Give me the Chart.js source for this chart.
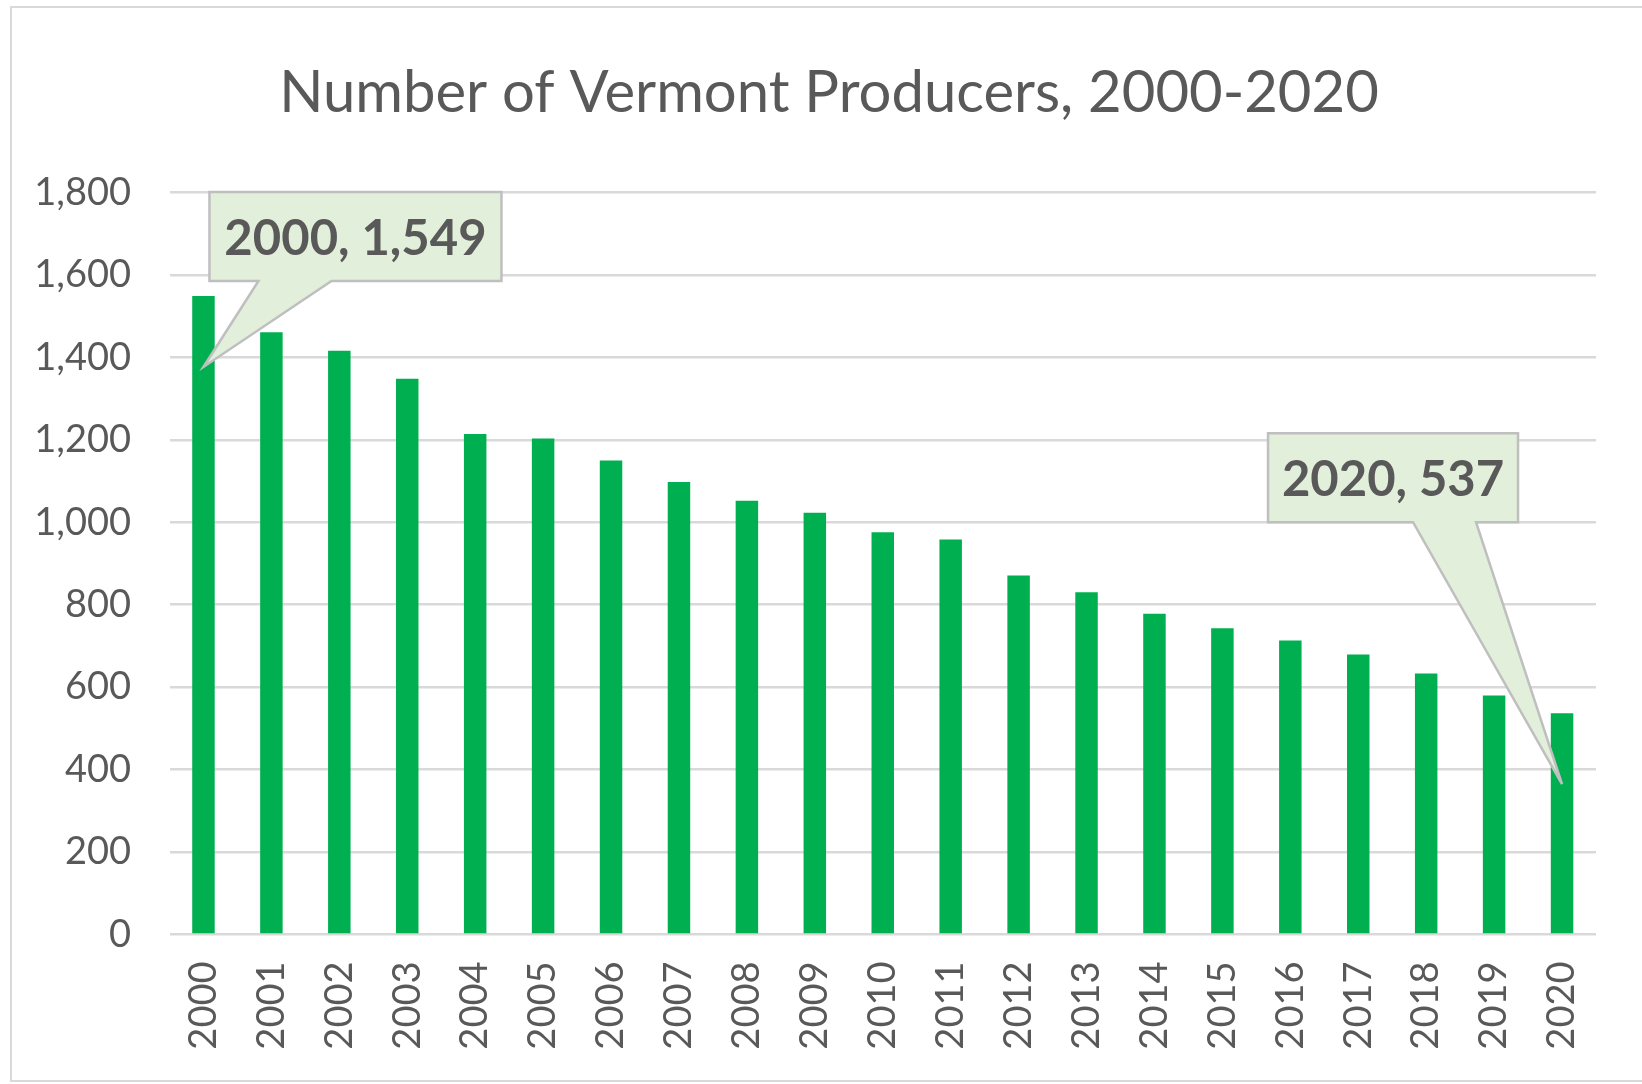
<!DOCTYPE html>
<html>
<head>
<meta charset="utf-8">
<script src="https://cdn.jsdelivr.net/npm/chart.js@4/dist/chart.umd.min.js"></script>
<style>
  html, body { margin: 0; padding: 0; background: #ffffff; }
  #wrap { position: relative; width: 1642px; height: 1084px; }
  canvas { display: block; }
</style>
</head>
<body>
<div id="wrap"><canvas id="c" width="1642" height="1084"></canvas></div>
<script>
const chartTitle = 'Number of Vermont Producers, 2000-2020';
const years = ['2000','2001','2002','2003','2004','2005','2006','2007','2008','2009','2010',
               '2011','2012','2013','2014','2015','2016','2017','2018','2019','2020'];
const producers = [1549,1461,1416,1348,1214,1203,1150,1098,1052,1023,976,
                   958,871,830,778,743,713,679,633,580,537];
const yTicks = [0,200,400,600,800,1000,1200,1400,1600,1800];
const calloutIndexes = [0, 20];

const GREY_TEXT = '#595959';
const GRID = '#d9d9d9';

const calloutStyles = {
  0:  { dx: 6,    dy: -175, w: 292, h: 89, baseA: 49,  baseB: 122 },
  20: { dx: -294, dy: -351, w: 250, h: 89, baseA: 145, baseB: 208 }
};

const titlePlugin = {
  id: 'offsetTitle',
  afterDraw(chart) {
    const ctx = chart.ctx;
    ctx.save();
    ctx.fillStyle = GREY_TEXT;
    ctx.font = '58px Lato';
    ctx.textAlign = 'center';
    ctx.textBaseline = 'middle';
    ctx.fillText(chartTitle, 829, 93);
    ctx.restore();
  }
};

const calloutPlugin = {
  id: 'callouts',
  afterDatasetsDraw(chart) {
    const ctx = chart.ctx;
    const meta = chart.getDatasetMeta(0);
    calloutIndexes.forEach(i => {
      const bar = meta.data[i];
      const s = calloutStyles[i];
      const tip = { x: bar.x, y: bar.y + 71 };
      const L = tip.x + s.dx, T = tip.y + s.dy, R = L + s.w, B = T + s.h;
      ctx.save();
      ctx.beginPath();
      ctx.moveTo(L, T);
      ctx.lineTo(R, T);
      ctx.lineTo(R, B);
      ctx.lineTo(L + s.baseB, B);
      ctx.lineTo(tip.x, tip.y);
      ctx.lineTo(L + s.baseA, B);
      ctx.lineTo(L, B);
      ctx.closePath();
      ctx.fillStyle = '#e2efda';
      ctx.fill();
      ctx.lineWidth = 2.5;
      ctx.strokeStyle = '#bfbfbf';
      ctx.lineJoin = 'miter';
      ctx.stroke();
      ctx.fillStyle = GREY_TEXT;
      ctx.font = 'bold 49px Lato';
      ctx.textAlign = 'center';
      ctx.textBaseline = 'middle';
      const label = years[i] + ', ' + producers[i].toLocaleString('en-US');
      ctx.fillText(label, (L + R) / 2, (T + B) / 2 + 3);
      ctx.restore();
    });
  }
};

const borderPlugin = {
  id: 'outerBorder',
  beforeDraw(chart) {
    const ctx = chart.ctx;
    ctx.save();
    ctx.fillStyle = '#ffffff';
    ctx.fillRect(0, 0, chart.width, chart.height);
    ctx.strokeStyle = '#d9d9d9';
    ctx.lineWidth = 2;
    ctx.strokeRect(11, 7, 1700, 1074);
    ctx.restore();
  }
};

new Chart(document.getElementById('c'), {
  type: 'bar',
  data: {
    labels: years,
    datasets: [{
      data: producers,
      backgroundColor: '#00b050',
      borderWidth: 0,
      barPercentage: 1.0,
      categoryPercentage: 0.331
    }]
  },
  options: {
    responsive: false,
    animation: false,
    devicePixelRatio: 1,
    layout: { padding: { left: 0, right: 46, top: 192.5, bottom: 0 } },
    plugins: {
      legend: { display: false },
      tooltip: { enabled: false },
      title: { display: false }
    },
    scales: {
      x: {
        grid: { display: false, drawTicks: false },
        border: { display: false },
        ticks: {
          color: GREY_TEXT,
          font: { family: 'Lato', size: 38 },
          maxRotation: 90,
          minRotation: 90,
          padding: 27,
          autoSkip: false
        },
        afterFit(scale) { scale.height = 149.5; }
      },
      y: {
        min: 0,
        max: 1800,
        afterBuildTicks(scale) { scale.ticks = yTicks.map(v => ({ value: v })); },
        grid: { color: GRID, lineWidth: 2.5, drawTicks: false },
        border: { display: false },
        ticks: {
          color: GREY_TEXT,
          font: { family: 'Lato', size: 38 },
          padding: 38.5,
          callback: v => Number(v).toLocaleString('en-US')
        },
        afterFit(scale) { scale.width = 169.5; }
      }
    }
  },
  plugins: [borderPlugin, titlePlugin, calloutPlugin]
});
</script>
</body>
</html>
